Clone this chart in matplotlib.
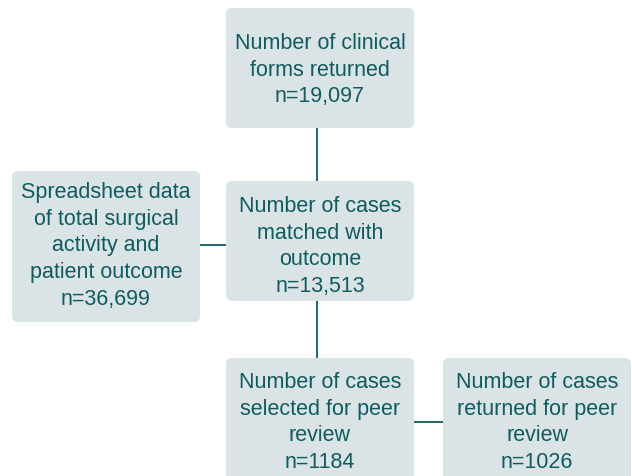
import matplotlib.pyplot as plt
from matplotlib.patches import FancyBboxPatch

# box labels
labels = [
    "Number of clinical\nforms returned\nn=19,097",
    "Number of cases\nmatched with\noutcome\nn=13,513",
    "Spreadsheet data\nof total surgical\nactivity and\npatient outcome\nn=36,699",
    "Number of cases\nselected for peer\nreview\nn=1184",
    "Number of cases\nreturned for peer\nreview\nn=1026",
]
# box geometry in pixels: left, top, right, bottom
boxes = [
    (226, 9, 414, 129),
    (226, 182, 414, 302),
    (12, 172, 200, 323),
    (226, 359, 414, 485),
    (443, 359, 631, 485),
]
text_y = [68, 244.5, 244, 420.5, 420.5]
# connectors (x0, y0, x1, y1)
links = [
    (317, 129, 317, 182),
    (200, 246, 226, 246),
    (317, 302, 317, 359),
    (414, 423, 443, 423),
]

BOX_COLOR = "#dae4e6"
INK = "#0e5b60"

fig = plt.figure(figsize=(6.32, 4.77), dpi=100)
ax = fig.add_axes([0, 0, 1, 1])
ax.set_xlim(0, 632)
ax.set_ylim(477, 0)
ax.axis("off")

for (x0, y0, x1, y1) in links:
    ax.plot([x0, x1], [y0, y1], color=INK, lw=1.3, zorder=1)

for (l, t, r, b), lab, ty in zip(boxes, labels, text_y):
    ax.add_patch(FancyBboxPatch((l + 6, t + 6), r - l - 12, b - t - 12,
                                boxstyle="round,pad=6", fc=BOX_COLOR, ec="none", zorder=2))
    ax.text((l + r) / 2, ty + 2, lab, ha="center", va="center", color=INK,
            fontsize=15.5, family="Liberation Sans", linespacing=1.36, zorder=3)

fig.savefig("out.png", dpi=100)
